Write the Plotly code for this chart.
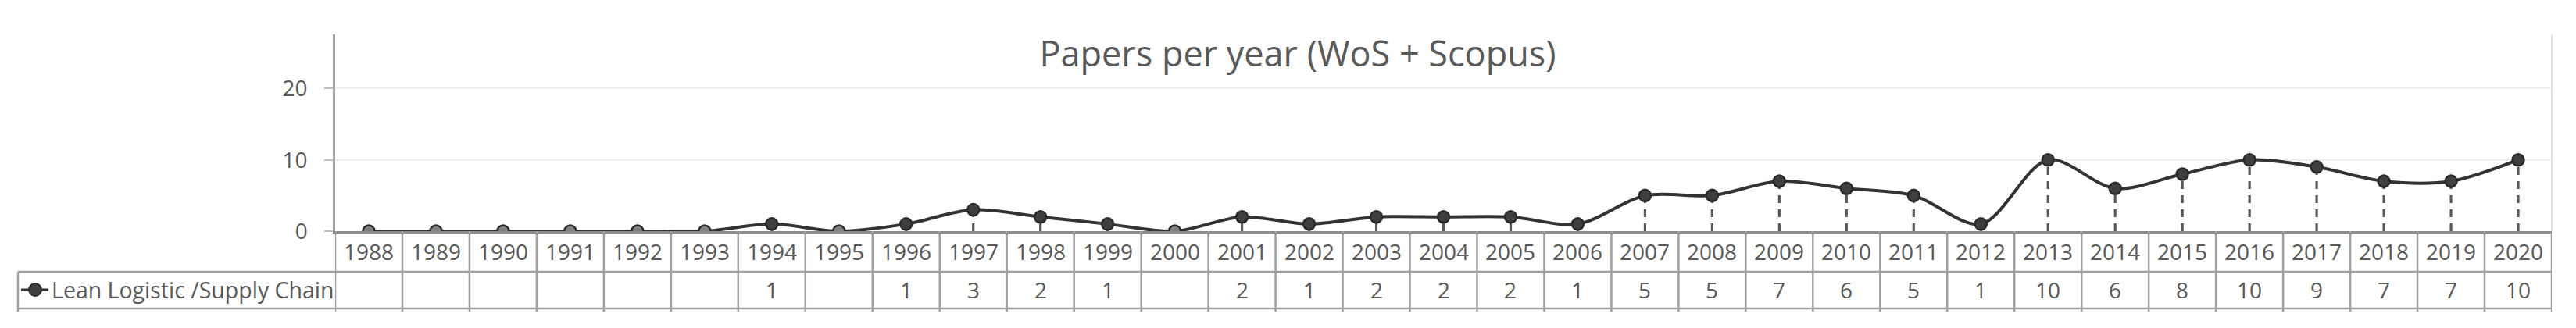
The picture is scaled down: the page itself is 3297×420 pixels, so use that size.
import plotly.graph_objects as go

years = list(range(1988, 2021))
papers = [0, 0, 0, 0, 0, 0, 1, 0, 1, 3, 2, 1, 0, 2, 1, 2, 2, 2, 1, 5, 5, 7, 6, 5, 1, 10, 6, 8, 10, 9, 7, 7, 10]
series_name = "Lean Logistic /Supply Chain"
chart_title = "Papers per year (WoS + Scopus)"
y_ticks = [0, 10, 20]

# the page body has an 8px default margin: shift the figure accordingly
OFF = 8
W, H = 3297 - OFF, 420 - OFF
PLOT_L, PLOT_R, PLOT_T, PLOT_B = 429, 3266, 44, 296   # screen pixels
ML, MR, MT, MB = PLOT_L - OFF, 3297 - PLOT_R, PLOT_T - OFF, 420 - PLOT_B
PW = PLOT_R - PLOT_L
PH = PLOT_B - PLOT_T

FONT = "Open Sans"
TXT = "#595959"
TABLE_LINE = "#a0a0a0"


def py(pix):
    """screen pixel row -> paper y"""
    return (PLOT_B - pix) / PH


def px(pix):
    """screen pixel column -> paper x"""
    return (pix - PLOT_L) / PW


fig = go.Figure()

# drop lines
dx, dy = [], []
for x, v in zip(years, papers):
    dx += [x, x, None]
    dy += [0, v, None]
fig.add_trace(go.Scatter(x=dx, y=dy, mode="lines",
                         line=dict(color="#595959", width=3.2, dash="10px,8px"),
                         hoverinfo="skip", showlegend=False))

# main series
fig.add_trace(go.Scatter(
    x=years, y=papers, mode="lines+markers", name=series_name,
    line=dict(color="#333333", width=4, shape="spline", smoothing=0.9),
    marker=dict(size=15, symbol="circle",
                color=["#808080" if v == 0 else "#3f3f3f" for v in papers],
                line=dict(color="#2b2b2b", width=2.5)),
    showlegend=False))

shapes = []
# horizontal table lines
for pix in (348, 395):
    shapes.append(dict(type="line", xref="paper", yref="paper",
                       x0=px(23), x1=1.0, y0=py(pix), y1=py(pix),
                       line=dict(color=TABLE_LINE, width=2.5)))
# vertical table lines
for i in range(len(years) + 1):
    xb = years[0] - 0.5 + i
    shapes.append(dict(type="line", xref="x", yref="paper",
                       x0=xb, x1=xb, y0=py(296), y1=py(399),
                       line=dict(color=TABLE_LINE, width=2.5)))
# left border of legend cell
shapes.append(dict(type="line", xref="paper", yref="paper",
                   x0=px(23), x1=px(23), y0=py(348), y1=py(399),
                   line=dict(color=TABLE_LINE, width=2.5)))
# right plot border
shapes.append(dict(type="line", xref="paper", yref="paper",
                   x0=1, x1=1, y0=0, y1=1,
                   line=dict(color="#e3e3e3", width=2)))
# legend key
shapes.append(dict(type="line", xref="paper", yref="paper",
                   x0=px(27), x1=px(62), y0=py(371), y1=py(371),
                   line=dict(color="#333333", width=3)))
shapes.append(dict(type="circle", xref="paper", yref="paper",
                   xsizemode="pixel", ysizemode="pixel",
                   xanchor=px(45), yanchor=py(371),
                   x0=-8, x1=8, y0=-8, y1=8,
                   fillcolor="#3f3f3f", line=dict(color="#2b2b2b", width=2)))

annotations = []
for x, v in zip(years, papers):
    annotations.append(dict(x=x, y=py(322), xref="x", yref="paper",
                            text=str(x), showarrow=False,
                            font=dict(family=FONT, size=28, color=TXT),
                            xanchor="center", yanchor="middle"))
    annotations.append(dict(x=x, y=py(371), xref="x", yref="paper",
                            text="" if v == 0 else str(v), showarrow=False,
                            font=dict(family=FONT, size=28, color=TXT),
                            xanchor="center", yanchor="middle"))
annotations.append(dict(x=px(64), y=py(371), xref="paper", yref="paper",
                        text=series_name, showarrow=False,
                        font=dict(family=FONT, size=28.5, color=TXT),
                        xanchor="left", yanchor="middle"))

fig.update_layout(
    width=W, height=H,
    margin=dict(l=ML, r=MR, t=MT, b=MB),
    paper_bgcolor="white", plot_bgcolor="white",
    title=dict(text=chart_title, x=(1661 - OFF) / W, xanchor="center",
               y=1 - (69 - OFF) / H, yanchor="middle", yref="container",
               font=dict(family=FONT, size=45, color=TXT)),
    xaxis=dict(range=[years[0] - 0.5, years[-1] + 0.5], showticklabels=False,
               showgrid=False, zeroline=False, showline=True,
               linecolor="#8c8c8c", linewidth=2.5, ticks=""),
    yaxis=dict(range=[0, 27.6], tickvals=y_ticks, showgrid=True,
               gridcolor="#f0f0f0", gridwidth=2, zeroline=False,
               showline=True, linecolor="#a6a6a6", linewidth=2.5,
               ticks="outside", ticklen=11, tickcolor="#bfbfbf", tickwidth=2,
               ticklabelstandoff=16,
               tickfont=dict(family=FONT, size=28, color=TXT)),
    shapes=shapes, annotations=annotations,
)

fig.write_html("out.html")
